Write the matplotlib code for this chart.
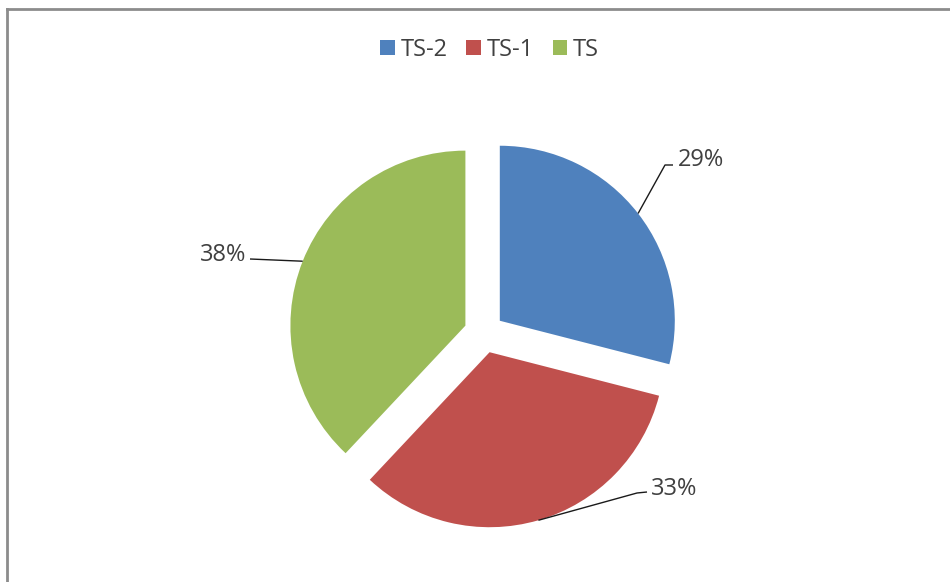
import numpy as np
import matplotlib
matplotlib.use("Agg")
import matplotlib.pyplot as plt
from matplotlib.lines import Line2D

# Data
categories = ["TS-2", "TS-1", "TS"]
shares = [29, 33, 38]
colors = ["#4F81BD", "#C0504D", "#9BBB59"]

W, H = 950, 582
fig = plt.figure(figsize=(W / 100, H / 100), dpi=100)
fig.patch.set_facecolor("white")

# axes in pixel units (y measured upward)
ax = fig.add_axes([0, 0, 1, 1])
cx, cy, r, off = 484, H - 333, 175, 20

wedges, _ = ax.pie(shares, colors=colors, startangle=90, counterclock=False,
                   explode=[off] * len(shares), radius=r, center=(cx, cy),
                   wedgeprops=dict(linewidth=0))
ax.set_xlim(0, W)
ax.set_ylim(0, H)
ax.set_aspect("equal")
ax.axis("off")

font = dict(family=["Open Sans", "DejaVu Sans"], size=17, color="#404040")

# label layout: (elbow points in pixels from top-left, text anchor, alignment)
label_layout = [
    ([(665, 165), (673, 165)], (678, 160), "left"),
    ([(637, 493), (647, 492)], (651, 489), "left"),
    ([(250, 259)], (246, 255), "right"),
]

for w, val, (pts, tpos, ha) in zip(wedges, shares, label_layout):
    mid = np.deg2rad((w.theta1 + w.theta2) / 2)
    wx, wy = w.center
    ax_pt = (wx + r * np.cos(mid), wy + r * np.sin(mid))
    xs = [ax_pt[0]] + [p[0] for p in pts]
    ys = [ax_pt[1]] + [H - p[1] for p in pts]
    ax.plot(xs, ys, color="#1a1a1a", lw=1.0, solid_capstyle="butt")
    ax.text(tpos[0], H - tpos[1], f"{val}%", ha=ha, va="center", **font)

leg = fig.legend(wedges, categories, loc="center", bbox_to_anchor=(489.5 / W, 1 - 50 / H),
                 ncol=3, frameon=False, handlelength=0.6, handleheight=0.6,
                 handletextpad=0.25, columnspacing=0.8, borderpad=0,
                 prop=dict(family=["Open Sans", "DejaVu Sans"], size=17))
for t in leg.get_texts():
    t.set_color("#404040")

# chart area border (top and left edges visible)
fig.add_artist(Line2D([7 / W, 1], [1 - 9 / H, 1 - 9 / H], transform=fig.transFigure,
                      color="#8c8c8c", lw=2))
fig.add_artist(Line2D([7 / W, 7 / W], [0, 1 - 9 / H], transform=fig.transFigure,
                      color="#8c8c8c", lw=2))

fig.savefig("out.png", dpi=100, facecolor="white")
